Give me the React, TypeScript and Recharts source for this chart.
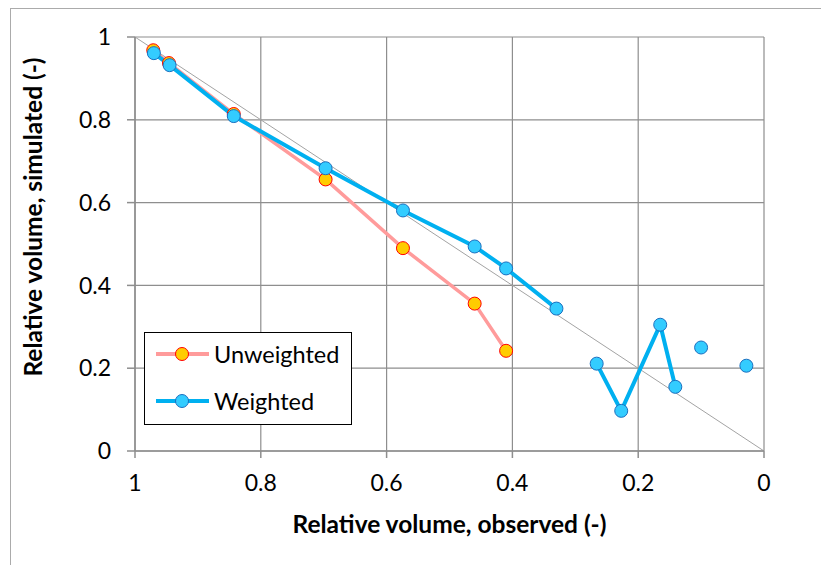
import { LineChart, Line, XAxis, YAxis, CartesianGrid, ReferenceLine, Label } from "recharts";

// observed (x) and simulated (y) relative volumes
const unweightedObs = [0.971, 0.946, 0.843, 0.697, 0.574, 0.46, 0.41];
const unweightedSim = [0.968, 0.937, 0.814, 0.656, 0.49, 0.356, 0.242];

const weightedObs = [0.97, 0.945, 0.843, 0.697, 0.574, 0.46, 0.41, 0.33, 0.266, 0.227, 0.165, 0.141, 0.1, 0.028];
const weightedSim = [0.961, 0.932, 0.809, 0.683, 0.581, 0.494, 0.441, 0.344, 0.211, 0.097, 0.305, 0.155, 0.25, 0.206];
// the weighted line is broken where points are missing in between
const weightedSegments = [
    [0, 8],
    [8, 12],
    [12, 13],
    [13, 14],
];

const axisTicks = [0, 0.2, 0.4, 0.6, 0.8, 1];

const FONT = "Lato, 'Open Sans', sans-serif";
const GRID = "#8e8e8e";
const TITLE_STYLE = { fontFamily: FONT, fontSize: 24.5, fontWeight: 700, fill: "#000" };

const unweightedData = unweightedObs.map((x, i) => ({ x, y: unweightedSim[i] }));
const weightedData = weightedObs.map((x, i) => ({ x, y: weightedSim[i] }));

const unweightedStyle = { line: "#ff9b9b", fill: "#ffcc00", stroke: "#ff0000" };
const weightedStyle = { line: "#00b0f0", fill: "#33ccff", stroke: "#1a6fbf" };

function LegendIcon({ s }: { s: typeof unweightedStyle }) {
    return (
        <svg width={56} height={16} style={{ display: "block" }}>
            <line x1={1} y1={8} x2={54} y2={8} stroke={s.line} strokeWidth={4} />
            <circle cx={27} cy={8} r={6.5} fill={s.fill} stroke={s.stroke} strokeWidth={1} />
        </svg>
    );
}

const YTitle = () => (
    <text x={32} y={217} transform="rotate(-90 32 217)" textAnchor="middle" dominantBaseline="central" style={TITLE_STYLE}>
        Relative volume, simulated (-)
    </text>
);

export default function App() {
    return (
        <div style={{ position: "fixed", left: 0, top: 0, width: 821, height: 565, overflow: "hidden", background: "#fff" }}>
            <div
                style={{
                    position: "absolute",
                    left: 10,
                    top: 8,
                    width: 900,
                    height: 700,
                    border: "1px solid #ababab",
                }}
            />
            <div style={{ position: "absolute", left: 0, top: 0 }}>
                <LineChart width={821} height={565} margin={{ top: 37, right: 57, left: 35, bottom: 54 }}>
                    <CartesianGrid stroke={GRID} strokeWidth={1.2} />
                    <XAxis
                        dataKey="x"
                        type="number"
                        domain={[0, 1]}
                        ticks={axisTicks}
                        reversed
                        height={60}
                        stroke={GRID}
                        strokeWidth={1.5}
                        tickSize={7}
                        tickMargin={17}
                        tick={{ fill: "#000", fontSize: 23, fontFamily: FONT }}
                    >
                        <Label value="Relative volume, observed (-)" position="bottom" offset={5} style={TITLE_STYLE} />
                    </XAxis>
                    <YAxis
                        dataKey="y"
                        type="number"
                        domain={[0, 1]}
                        ticks={axisTicks}
                        width={100}
                        stroke={GRID}
                        strokeWidth={1.5}
                        tickSize={8}
                        tickMargin={16}
                        tick={{ fill: "#000", fontSize: 23, fontFamily: FONT }}
                    >
                        <Label content={YTitle} />
                    </YAxis>
                    <ReferenceLine
                        segment={[
                            { x: 1, y: 1 },
                            { x: 0, y: 0 },
                        ]}
                        stroke="#a3a3a3"
                        strokeWidth={1}
                    />
                    <Line
                        data={unweightedData}
                        dataKey="y"
                        stroke={unweightedStyle.line}
                        strokeWidth={3.5}
                        dot={{ r: 6.5, fill: unweightedStyle.fill, stroke: unweightedStyle.stroke, strokeWidth: 1 }}
                        isAnimationActive={false}
                    />
                    {weightedSegments.map(([a, b], i) => (
                        <Line
                            key={i}
                            data={weightedData.slice(a, b)}
                            dataKey="y"
                            stroke={weightedStyle.line}
                            strokeWidth={4}
                            dot={{ r: 6.5, fill: weightedStyle.fill, stroke: weightedStyle.stroke, strokeWidth: 1 }}
                            isAnimationActive={false}
                        />
                    ))}
                </LineChart>
            </div>
            <div
                style={{
                    position: "absolute",
                    left: 144,
                    top: 332,
                    width: 206,
                    height: 91,
                    border: "1.5px solid #000",
                    background: "#fff",
                    fontFamily: FONT,
                    fontSize: 23.5,
                    color: "#000",
                }}
            >
                {[
                    { label: "Unweighted", s: unweightedStyle, top: 7 },
                    { label: "Weighted", s: weightedStyle, top: 54 },
                ].map((item) => (
                    <div
                        key={item.label}
                        style={{ position: "absolute", left: 10, top: item.top, height: 28, display: "flex", alignItems: "center" }}
                    >
                        <LegendIcon s={item.s} />
                        <span style={{ marginLeft: 3, lineHeight: "28px" }}>{item.label}</span>
                    </div>
                ))}
            </div>
        </div>
    );
}
